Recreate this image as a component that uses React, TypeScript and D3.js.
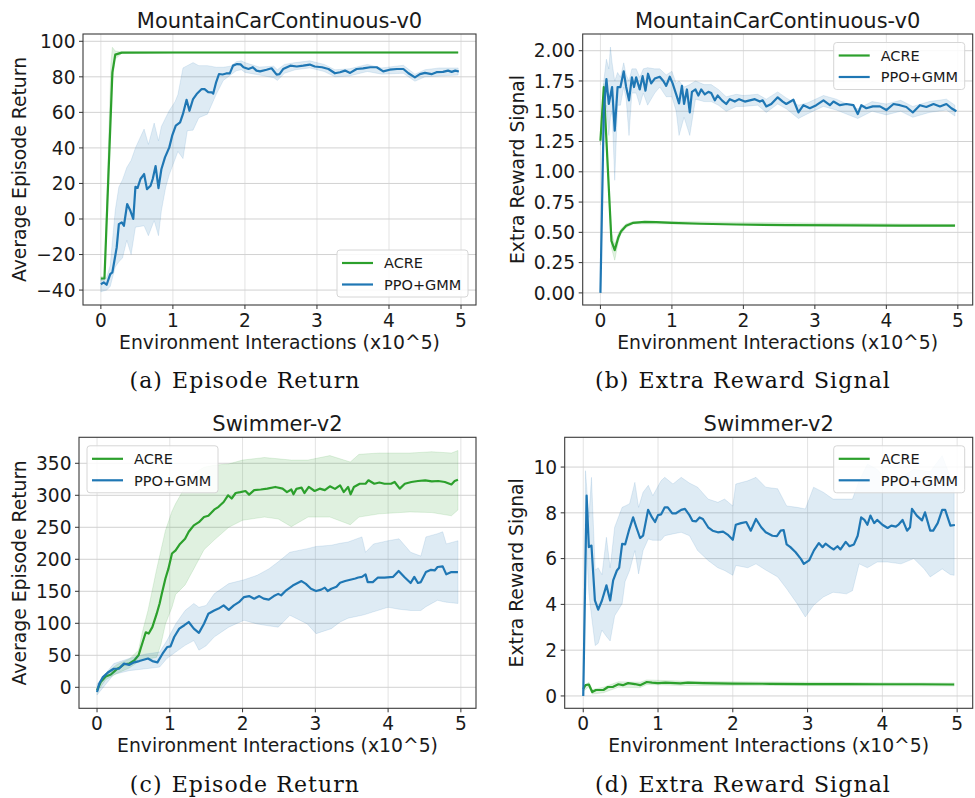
import React from "react";
import * as d3 from "d3";

type P = [number, number];
type B = [number, number, number];

// ---------- text ----------
const seriesNames = ["ACRE", "PPO+GMM"];
const titles = ["MountainCarContinuous-v0", "MountainCarContinuous-v0", "Swimmer-v2", "Swimmer-v2"];
const yLabels = ["Average Episode Return", "Extra Reward Signal", "Average Episode Return", "Extra Reward Signal"];
const captionTags = ["(a)", "(b)", "(c)", "(d)"];
const captionTexts = ["Episode Return", "Extra Reward Signal", "Episode Return", "Extra Reward Signal"];
const xLabel = "Environment Interactions (x10^5)";

// ---------- ticks ----------
const xTicks = [0, 1, 2, 3, 4, 5];
const yTicksA = [-40, -20, 0, 20, 40, 60, 80, 100];
const yTicksB = [0, 0.25, 0.5, 0.75, 1.0, 1.25, 1.5, 1.75, 2.0];
const yTicksC = [0, 50, 100, 150, 200, 250, 300, 350];
const yTicksD = [0, 2, 4, 6, 8, 10];

// ---------- (a) MountainCar episode return ----------
const acreA: P[] = [[0, -33.5], [0.05, -33.5], [0.16, 82.5], [0.2, 92.5], [0.29, 93.6], [1, 93.7], [4.96, 93.7]];
const acreBandA: B[] = [[0, -34.5, -32.5], [0.05, -34.5, -32.5], [0.14, 70, 88], [0.16, 78, 96.6], [0.2, 90, 94.5], [0.29, 93.2, 94.0], [4.96, 93.3, 94.1]];
const ppoA: P[] = [
  [0, -36.7], [0.04, -35.7], [0.08, -37], [0.13, -31], [0.16, -30], [0.22, -16], [0.25, -2.9], [0.29, -1.9], [0.32, -3.8],
  [0.365, 8.4], [0.41, 4.6], [0.45, 0], [0.48, 18.1], [0.51, 17.5], [0.55, 22.5], [0.6, 25.3], [0.64, 16.8], [0.69, 18.7],
  [0.72, 22.5], [0.76, 29.8], [0.8, 17.4], [0.84, 28], [0.89, 34.7], [0.95, 40.3], [0.99, 46.9], [1.04, 52.5], [1.1, 54.4],
  [1.14, 59.1], [1.19, 67.1], [1.23, 60.9], [1.28, 67.5], [1.33, 70.3], [1.4, 73.1], [1.44, 73.1], [1.49, 71.4], [1.54, 71.2],
  [1.56, 70.6], [1.6, 76.9], [1.64, 81.6], [1.69, 81.3], [1.74, 81.9], [1.79, 81.9], [1.835, 86.3], [1.89, 87.2], [1.94, 87],
  [1.98, 85.4], [2.05, 84.4], [2.11, 85.4], [2.16, 83.5], [2.21, 83.1], [2.3, 84], [2.37, 84.8], [2.44, 81.2], [2.48, 81.5],
  [2.53, 84.4], [2.63, 86.3], [2.72, 85.8], [2.81, 86.3], [2.9, 86.9], [2.97, 85.8], [3.07, 85.4], [3.16, 84.4], [3.25, 82],
  [3.32, 82.6], [3.39, 83.5], [3.46, 82.2], [3.55, 84.4], [3.64, 84.8], [3.74, 85.4], [3.83, 85.4], [3.92, 83.1], [4.01, 84],
  [4.11, 84.4], [4.2, 84.4], [4.27, 82], [4.36, 79.7], [4.43, 81.5], [4.5, 82.2], [4.59, 81.5], [4.66, 82.6], [4.75, 82.8],
  [4.82, 83.5], [4.87, 82.8], [4.92, 83.5], [4.97, 83],
];
const ppoBandA: B[] = [
  [0, -41, -34], [0.08, -40, -33], [0.13, -38, -26], [0.2, -27, 5], [0.25, -24, 18], [0.3, -22, 22], [0.36, -12, 29],
  [0.42, -20, 33], [0.48, -4.6, 40], [0.6, -3.8, 50.6], [0.66, -9.4, 42], [0.74, -0.9, 54], [0.8, -9.4, 44], [0.84, 4.6, 52],
  [0.9, 17.8, 57], [0.95, 25, 61], [1.03, 33.6, 66], [1.07, 38, 70], [1.14, 34, 85], [1.2, 49.7, 86.3], [1.28, 50, 88],
  [1.36, 57, 86.3], [1.48, 59, 86.3], [1.6, 70, 85.4], [1.7, 78, 85.4], [1.8, 81, 86], [1.88, 83.4, 88.5], [1.95, 84, 89],
  [2.0, 82.5, 88], [2.2, 81, 85.5], [2.4, 79.5, 86], [2.45, 78, 84], [2.55, 82, 87], [2.7, 84, 88], [2.9, 85, 89],
  [3.1, 83, 87], [3.25, 80, 84], [3.45, 80.5, 84.5], [3.7, 83, 87], [3.9, 81.5, 85], [4.2, 82, 86.5], [4.36, 77.5, 81.5],
  [4.5, 80, 84], [4.7, 80.5, 85], [4.96, 81, 85],
];

// ---------- (b) MountainCar extra reward ----------
const acreB: P[] = [[0, 1.256], [0.047, 1.7], [0.154, 0.43], [0.2, 0.353], [0.25, 0.458], [0.29, 0.51], [0.36, 0.554], [0.46, 0.579],
  [0.62, 0.587], [0.78, 0.584], [1.0, 0.579], [1.4, 0.571], [1.9, 0.565], [2.6, 0.56], [3.5, 0.558], [4.2, 0.556], [4.96, 0.555]];
const acreBandB: B[] = [[0, 1.22, 1.29], [0.047, 1.66, 1.73], [0.154, 0.37, 0.5], [0.2, 0.27, 0.4], [0.25, 0.42, 0.49],
  [0.29, 0.49, 0.53], [0.36, 0.54, 0.57], [0.46, 0.57, 0.59], [1.0, 0.57, 0.59], [4.96, 0.55, 0.565]];
const ppoB: P[] = [
  [0, 0], [0.047, 1.5], [0.084, 1.766], [0.117, 1.56], [0.163, 1.7], [0.2, 1.34], [0.24, 1.7], [0.28, 1.7], [0.326, 1.83],
  [0.36, 1.7], [0.4, 1.59], [0.44, 1.78], [0.47, 1.7], [0.5, 1.78], [0.55, 1.68], [0.59, 1.79], [0.63, 1.67], [0.666, 1.81],
  [0.71, 1.73], [0.76, 1.77], [0.83, 1.785], [0.88, 1.75], [0.92, 1.71], [0.97, 1.785], [1.01, 1.73], [1.06, 1.64], [1.1, 1.565],
  [1.14, 1.71], [1.17, 1.56], [1.21, 1.68], [1.25, 1.49], [1.28, 1.66], [1.33, 1.68], [1.37, 1.63], [1.41, 1.68], [1.46, 1.64],
  [1.51, 1.66], [1.55, 1.65], [1.6, 1.59], [1.64, 1.63], [1.7, 1.59], [1.76, 1.56], [1.81, 1.6], [1.88, 1.58], [1.94, 1.6],
  [2.02, 1.58], [2.09, 1.59], [2.16, 1.6], [2.23, 1.58], [2.27, 1.59], [2.32, 1.54], [2.39, 1.56], [2.48, 1.615], [2.55, 1.58],
  [2.6, 1.56], [2.7, 1.595], [2.77, 1.49], [2.84, 1.55], [2.93, 1.525], [3.02, 1.55], [3.12, 1.59], [3.21, 1.55], [3.26, 1.58],
  [3.35, 1.55], [3.44, 1.56], [3.54, 1.55], [3.6, 1.477], [3.65, 1.55], [3.72, 1.525], [3.81, 1.54], [3.91, 1.54], [4.0, 1.51],
  [4.1, 1.56], [4.19, 1.55], [4.28, 1.535], [4.37, 1.49], [4.47, 1.55], [4.56, 1.535], [4.66, 1.56], [4.75, 1.54], [4.84, 1.56],
  [4.91, 1.525], [4.98, 1.5],
];
const ppoBandB: B[] = [
  [0, 0, 0], [0.047, 1.3, 1.75], [0.084, 1.55, 1.93], [0.117, 1.3, 1.85], [0.14, 1.45, 2.03], [0.163, 1.5, 1.9], [0.2, 0.93, 1.75],
  [0.24, 1.55, 1.82], [0.28, 1.55, 1.78], [0.326, 1.7, 1.9], [0.36, 1.6, 1.8], [0.4, 1.3, 1.75], [0.44, 1.65, 1.85], [0.5, 1.65, 1.85],
  [0.55, 1.55, 1.78], [0.6, 1.65, 1.85], [0.66, 1.55, 1.86], [0.76, 1.65, 1.85], [0.83, 1.7, 1.85], [0.92, 1.62, 1.8], [1.0, 1.62, 1.83],
  [1.06, 1.5, 1.73], [1.1, 1.3, 1.75], [1.17, 1.45, 1.7], [1.25, 1.3, 1.72], [1.33, 1.6, 1.75], [1.45, 1.58, 1.72], [1.55, 1.58, 1.72],
  [1.65, 1.55, 1.68], [1.76, 1.5, 1.62], [1.9, 1.54, 1.64], [2.0, 1.54, 1.63], [2.2, 1.55, 1.64], [2.32, 1.49, 1.6], [2.48, 1.56, 1.66],
  [2.6, 1.52, 1.61], [2.77, 1.44, 1.55], [2.9, 1.48, 1.57], [3.12, 1.54, 1.63], [3.3, 1.51, 1.6], [3.6, 1.44, 1.52], [3.8, 1.5, 1.58],
  [4.0, 1.47, 1.56], [4.2, 1.5, 1.59], [4.37, 1.45, 1.54], [4.6, 1.49, 1.58], [4.84, 1.51, 1.6], [4.96, 1.46, 1.55],
];

// ---------- (c) Swimmer episode return ----------
const acreC: P[] = [
  [0, -4.7], [0.05, 8.3], [0.12, 17], [0.19, 20], [0.23, 24], [0.28, 29], [0.32, 31.6], [0.37, 36], [0.44, 37], [0.51, 42],
  [0.57, 50], [0.62, 68], [0.67, 86], [0.71, 84], [0.76, 94], [0.82, 115], [0.86, 131], [0.89, 146], [0.94, 170], [0.98, 185],
  [1.03, 209], [1.08, 214], [1.14, 224], [1.21, 232], [1.26, 243], [1.33, 253], [1.4, 258], [1.47, 266], [1.53, 268], [1.61, 277.5],
  [1.67, 282], [1.74, 289.5], [1.8, 300], [1.85, 295], [1.905, 303.6], [1.97, 305], [2.04, 306.7], [2.09, 301], [2.16, 308],
  [2.25, 309], [2.34, 310.4], [2.45, 313], [2.55, 310.4], [2.61, 305], [2.67, 309], [2.7, 301.6], [2.74, 310], [2.81, 312],
  [2.85, 303.6], [2.91, 313], [2.99, 306.7], [3.06, 310.4], [3.13, 308], [3.2, 314], [3.27, 310], [3.34, 315.6], [3.39, 305],
  [3.45, 313], [3.485, 301.5], [3.53, 313], [3.61, 318], [3.69, 318], [3.73, 323.4], [3.81, 318], [3.88, 320], [3.95, 318],
  [4.04, 318], [4.09, 320.8], [4.16, 310.4], [4.23, 318], [4.32, 320.8], [4.41, 322.3], [4.51, 323.4], [4.6, 321.8], [4.69, 322.3],
  [4.78, 320.8], [4.87, 317], [4.915, 322.3], [4.96, 324.4],
];
const acreBandC: B[] = [
  [0, -8, -1], [0.12, 12, 22], [0.28, 22, 36], [0.44, 30, 44], [0.57, 40, 58], [0.62, 42, 85], [0.7, 44, 120], [0.82, 47, 185],
  [0.88, 68, 215], [0.94, 99, 245], [1.03, 125, 275], [1.08, 145, 287], [1.21, 160, 313], [1.33, 185, 334], [1.47, 215, 344],
  [1.61, 230, 347], [1.81, 250, 349], [2.0, 261, 355], [2.3, 266, 359], [2.49, 263, 357], [2.67, 251, 355], [2.9, 266, 355],
  [3.2, 266, 362], [3.48, 254, 352], [3.6, 266, 364], [3.88, 271, 366], [4.3, 274, 366], [4.6, 273, 368], [4.87, 268, 366],
  [4.96, 277, 370],
];
const ppoC: P[] = [
  [0, -7.3], [0.03, 5.7], [0.08, 16], [0.16, 24], [0.23, 29], [0.3, 29], [0.37, 37], [0.44, 35], [0.51, 39], [0.58, 41],
  [0.64, 43], [0.7, 45], [0.76, 41], [0.83, 39], [0.9, 52.5], [0.966, 63], [1.01, 64], [1.06, 78.6], [1.13, 91.6], [1.2, 97],
  [1.26, 102], [1.33, 91.6], [1.4, 85], [1.47, 99.4], [1.53, 115], [1.61, 120], [1.67, 123], [1.74, 128], [1.81, 121], [1.88, 128],
  [1.95, 133], [2.02, 141], [2.09, 142.5], [2.16, 138.5], [2.23, 142.5], [2.29, 138.5], [2.36, 137], [2.43, 142.5], [2.49, 146],
  [2.53, 143.6], [2.6, 151.5], [2.69, 159], [2.81, 166], [2.87, 161.6], [2.94, 154], [3.01, 150.4], [3.08, 152.6], [3.13, 155.7],
  [3.17, 150.4], [3.22, 154], [3.29, 157], [3.34, 163.4], [3.41, 166], [3.48, 168], [3.55, 170], [3.59, 171.5], [3.64, 172.6],
  [3.69, 176.5], [3.72, 164.4], [3.79, 164.4], [3.86, 171.5], [3.95, 171.5], [4.07, 172.6], [4.145, 181.7], [4.23, 171.5],
  [4.31, 163], [4.36, 172.6], [4.41, 163], [4.45, 164.4], [4.52, 180], [4.59, 183.6], [4.64, 182.6], [4.68, 188], [4.75, 189],
  [4.8, 176.5], [4.87, 180], [4.96, 180],
];
const ppoBandC: B[] = [
  [0, -12, 5], [0.23, 20, 37], [0.44, 26, 45], [0.67, 29, 52], [0.86, 31.6, 55], [0.96, 45, 73], [1.08, 55, 99], [1.21, 65.6, 120],
  [1.33, 73, 131], [1.4, 58, 125], [1.5, 65, 128], [1.61, 78.6, 146], [1.81, 94, 162], [2.02, 104.7, 168], [2.2, 99, 175],
  [2.36, 96, 185], [2.49, 94, 196], [2.65, 112.5, 211], [2.89, 99, 216.6], [3.01, 83.8, 220], [3.22, 91.6, 222], [3.34, 102, 225],
  [3.45, 108, 227], [3.64, 112.5, 235], [3.69, 114, 211], [3.8, 118, 224], [4.0, 125, 229], [4.15, 122, 232], [4.31, 120, 211],
  [4.45, 120, 205], [4.52, 126, 235], [4.68, 136, 240], [4.75, 134, 243], [4.8, 133, 224], [4.96, 131, 229],
];

// ---------- (d) Swimmer extra reward ----------
const acreD: P[] = [
  [0, 0.3], [0.03, 0.47], [0.075, 0.5], [0.12, 0.17], [0.17, 0.26], [0.27, 0.26], [0.33, 0.39], [0.4, 0.4], [0.47, 0.51],
  [0.53, 0.47], [0.6, 0.56], [0.69, 0.52], [0.76, 0.47], [0.85, 0.61], [0.92, 0.58], [1.0, 0.56], [1.1, 0.58], [1.3, 0.55],
  [1.4, 0.58], [1.6, 0.56], [2.0, 0.54], [2.5, 0.53], [3.0, 0.52], [3.5, 0.52], [4.0, 0.51], [4.5, 0.51], [4.96, 0.5],
];
const acreBandD: B[] = [
  [0, 0.2, 0.4], [0.075, 0.4, 0.6], [0.12, 0.08, 0.28], [0.27, 0.14, 0.38], [0.47, 0.38, 0.62], [0.76, 0.36, 0.6], [0.85, 0.5, 0.7],
  [1.3, 0.46, 0.65], [2.0, 0.46, 0.62], [3.0, 0.45, 0.6], [4.0, 0.44, 0.58], [4.96, 0.43, 0.57],
];
const ppoD: P[] = [
  [0, 0], [0.045, 8.75], [0.075, 6.5], [0.11, 6.57], [0.156, 4.17], [0.2, 3.77], [0.25, 4.17], [0.31, 4.83], [0.36, 4.17],
  [0.4, 5.05], [0.45, 5.48], [0.48, 5.6], [0.52, 6.64], [0.56, 6.62], [0.61, 7.22], [0.667, 7.8], [0.71, 7.37], [0.76, 6.9],
  [0.8, 7.0], [0.867, 8.13], [0.92, 7.8], [0.96, 7.6], [1.0, 7.9], [1.04, 7.93], [1.09, 8.24], [1.13, 8.24], [1.19, 7.98],
  [1.24, 7.98], [1.31, 8.13], [1.36, 8.17], [1.42, 7.9], [1.46, 7.65], [1.51, 7.63], [1.556, 7.8], [1.6, 7.73], [1.67, 7.37],
  [1.73, 7.22], [1.8, 7.15], [1.87, 7.18], [1.93, 7.05], [2.0, 6.82], [2.04, 7.48], [2.11, 7.55], [2.18, 7.6], [2.24, 7.22],
  [2.31, 7.73], [2.38, 7.37], [2.44, 7.15], [2.53, 7.0], [2.59, 6.98], [2.64, 7.22], [2.68, 7.25], [2.72, 6.62], [2.77, 6.5],
  [2.84, 6.28], [2.91, 5.99], [2.95, 5.77], [3.02, 5.92], [3.085, 6.36], [3.15, 6.68], [3.2, 6.5], [3.24, 6.65], [3.31, 6.48],
  [3.35, 6.4], [3.4, 6.54], [3.44, 6.4], [3.51, 6.73], [3.56, 6.54], [3.62, 6.62], [3.67, 7.0], [3.716, 7.8], [3.76, 7.69],
  [3.8, 7.48], [3.84, 7.88], [3.89, 7.55], [3.93, 7.69], [4.0, 7.48], [4.07, 7.34], [4.12, 7.44], [4.18, 7.4], [4.22, 7.5],
  [4.27, 7.69], [4.33, 7.22], [4.37, 7.37], [4.396, 8.17], [4.46, 7.88], [4.53, 7.67], [4.57, 8.02], [4.64, 7.22], [4.68, 7.22],
  [4.74, 7.55], [4.8, 8.13], [4.84, 8.13], [4.91, 7.44], [4.97, 7.47],
];
const ppoBandD: B[] = [
  [0, 0, 0], [0.03, 7.5, 9.84], [0.075, 4.5, 7.8], [0.11, 3.5, 9.55], [0.16, 2.2, 5.5], [0.2, 2.3, 5.6], [0.25, 2.87, 5.3],
  [0.31, 2.6, 6.93], [0.36, 2.4, 5.6], [0.42, 3.5, 7.37], [0.52, 4.03, 8.24], [0.56, 5.0, 8.3], [0.62, 5.48, 8.4], [0.69, 6.35, 9.33],
  [0.74, 5.33, 8.24], [0.8, 6.35, 8.9], [0.87, 6.86, 9.2], [0.93, 6.8, 8.75], [1.04, 6.8, 9.4], [1.09, 7.0, 9.55], [1.2, 7.08, 9.26],
  [1.31, 7.15, 9.55], [1.42, 7.0, 9.3], [1.53, 6.35, 9.12], [1.67, 5.92, 8.6], [1.8, 5.6, 8.46], [1.89, 5.48, 8.6], [2.0, 5.27, 8.3],
  [2.04, 5.7, 9.26], [2.2, 5.6, 9.4], [2.31, 5.77, 9.55], [2.44, 5.5, 9.12], [2.6, 5.2, 9.05], [2.72, 4.68, 8.3], [2.86, 4.03, 8.24],
  [2.97, 3.45, 8.17], [3.08, 3.96, 9.12], [3.21, 4.32, 8.9], [3.34, 4.53, 8.6], [3.52, 4.46, 8.6], [3.6, 4.6, 8.6], [3.69, 5.77, 9.4],
  [3.8, 5.6, 10.13], [3.93, 5.85, 9.9], [4.07, 5.85, 9.4], [4.25, 5.77, 9.55], [4.42, 6.0, 9.9], [4.56, 5.55, 9.84], [4.64, 5.2, 9.8],
  [4.8, 5.55, 10.5], [4.91, 5.3, 9.55], [4.96, 5.27, 9.55],
];

// ---------- styling / layout ----------
const COLORS = ["#2ca02c", "#1f77b4"];
const FONT = "DejaVu Sans, Verdana, sans-serif";
const SERIF = "DejaVu Serif, serif";
const X_DOMAIN: [number, number] = [-0.248, 5.208];

type Cfg = {
  left: number; right: number; top: number; bottom: number;
  yDomain: [number, number]; yTicks: number[]; yFmt: (v: number) => string;
  acre: P[]; acreBand: B[]; ppo: P[]; ppoBand: B[];
  legend: "lr" | "ur" | "ul"; ylabelX: number; capX: number; capY: number; idx: number;
};

const intFmt = (v: number) => d3.format("d")(v).replace("-", "\u2212");
const twoFmt = (v: number) => d3.format(".2f")(v);

const panels: Cfg[] = [
  { left: 83, right: 476, top: 34, bottom: 305, yDomain: [-48.4, 104.1], yTicks: yTicksA, yFmt: intFmt,
    acre: acreA, acreBand: acreBandA, ppo: ppoA, ppoBand: ppoBandA, legend: "lr", ylabelX: 26, capX: 245, capY: 388, idx: 0 },
  { left: 582.7, right: 972.7, top: 34, bottom: 305, yDomain: [-0.1, 2.138], yTicks: yTicksB, yFmt: twoFmt,
    acre: acreB, acreBand: acreBandB, ppo: ppoB, ppoBand: ppoBandB, legend: "ur", ylabelX: 524, capX: 743, capY: 388, idx: 1 },
  { left: 79, right: 476, top: 437.3, bottom: 708.3, yDomain: [-32.8, 390.6], yTicks: yTicksC, yFmt: intFmt,
    acre: acreC, acreBand: acreBandC, ppo: ppoC, ppoBand: ppoBandC, legend: "ul", ylabelX: 26, capX: 245, capY: 792, idx: 2 },
  { left: 564.7, right: 972.7, top: 437.3, bottom: 708.3, yDomain: [-0.54, 11.3], yTicks: yTicksD, yFmt: intFmt,
    acre: acreD, acreBand: acreBandD, ppo: ppoD, ppoBand: ppoBandD, legend: "ur", ylabelX: 523, capX: 743, capY: 792, idx: 3 },
];

function Panel({ c }: { c: Cfg }) {
  const x = d3.scaleLinear().domain(X_DOMAIN).range([c.left, c.right]);
  const y = d3.scaleLinear().domain(c.yDomain).range([c.bottom, c.top]);
  const line = d3.line<P>().x((d) => x(d[0])).y((d) => y(d[1]));
  const area = d3.area<B>().x((d) => x(d[0])).y0((d) => y(d[1])).y1((d) => y(d[2]));
  const clipId = `clip${c.idx}`;
  const w = c.right - c.left;
  const h = c.bottom - c.top;
  const lgW = 131, lgH = 47;
  const lgX = c.legend === "ul" ? c.left + 8 : c.right - 8 - lgW;
  const lgY = c.legend === "lr" ? c.bottom - 8 - lgH : c.top + 8.5;
  const cx = (c.left + c.right) / 2;
  const cy = (c.top + c.bottom) / 2;
  return (
    <g>
      <defs>
        <clipPath id={clipId}>
          <rect x={c.left} y={c.top} width={w} height={h} />
        </clipPath>
      </defs>
      {/* grid */}
      {xTicks.map((t) => (
        <line key={"gx" + t} x1={x(t)} x2={x(t)} y1={c.top} y2={c.bottom} stroke="#e3e3e3" strokeWidth={1} />
      ))}
      {c.yTicks.map((t) => (
        <line key={"gy" + t} x1={c.left} x2={c.right} y1={y(t)} y2={y(t)} stroke="#d2d2d2" strokeWidth={1} />
      ))}
      <g clipPath={`url(#${clipId})`}>
        <path d={area(c.acreBand) || ""} fill={COLORS[0]} fillOpacity={0.15} stroke={COLORS[0]} strokeOpacity={0.12} strokeWidth={1} />
        <path d={line(c.acre) || ""} fill="none" stroke={COLORS[0]} strokeWidth={2.2} strokeLinejoin="round" />
        <path d={area(c.ppoBand) || ""} fill={COLORS[1]} fillOpacity={0.15} stroke={COLORS[1]} strokeOpacity={0.12} strokeWidth={1} />
        <path d={line(c.ppo) || ""} fill="none" stroke={COLORS[1]} strokeWidth={2.2} strokeLinejoin="round" />
      </g>
      {/* frame */}
      <rect x={c.left} y={c.top} width={w} height={h} fill="none" stroke="#3a3a3a" strokeWidth={1.1} />
      {/* x ticks */}
      {xTicks.map((t) => (
        <g key={"xt" + t}>
          <line x1={x(t)} x2={x(t)} y1={c.bottom} y2={c.bottom + 4} stroke="#333" strokeWidth={1} />
          <text x={x(t)} y={c.bottom + 22} textAnchor="middle" fontFamily={FONT} fontSize={18.6} fill="#1a1a1a">{t}</text>
        </g>
      ))}
      {c.yTicks.map((t) => (
        <g key={"yt" + t}>
          <line x1={c.left - 4} x2={c.left} y1={y(t)} y2={y(t)} stroke="#333" strokeWidth={1} />
          <text x={c.left - 7.5} y={y(t)} dy="0.36em" textAnchor="end" fontFamily={FONT} fontSize={18.6} fill="#1a1a1a">{c.yFmt(t)}</text>
        </g>
      ))}
      {/* labels */}
      <text x={cx} y={c.top - 6} textAnchor="middle" fontFamily={FONT} fontSize={21} fill="#1a1a1a">{titles[c.idx]}</text>
      <text x={cx} y={c.bottom + 44} textAnchor="middle" fontFamily={FONT} fontSize={18.8} fill="#1a1a1a">{xLabel}</text>
      <text transform={`translate(${c.ylabelX},${cy}) rotate(-90)`} textAnchor="middle" fontFamily={FONT} fontSize={18.8} fill="#1a1a1a">{yLabels[c.idx]}</text>
      {/* legend */}
      <rect x={lgX} y={lgY} width={lgW} height={lgH} rx={3} fill="#fff" fillOpacity={0.85} stroke="#d6d6d6" strokeWidth={1} />
      {seriesNames.map((s, i) => (
        <g key={s}>
          <line x1={lgX + 5} x2={lgX + 36} y1={lgY + 13 + i * 21.5} y2={lgY + 13 + i * 21.5} stroke={COLORS[i]} strokeWidth={2.2} />
          <text x={lgX + 47} y={lgY + 13 + i * 21.5} dy="0.36em" fontFamily={FONT} fontSize={14.5} fill="#1a1a1a">{s}</text>
        </g>
      ))}
      {/* caption */}
      <text x={c.capX} y={c.capY} textAnchor="middle" fontFamily={SERIF} fontSize={22} letterSpacing={1.1} fill="#111">
        {captionTags[c.idx]}
        <tspan dx={9}>{captionTexts[c.idx]}</tspan>
      </text>
    </g>
  );
}

export default function App() {
  return (
    <svg width={975} height={798} viewBox="0 0 975 798" style={{ position: "absolute", left: 0, top: 0, background: "#fff" }}>
      <rect x={0} y={0} width={975} height={798} fill="#fff" />
      {panels.map((c) => (
        <Panel key={c.idx} c={c} />
      ))}
    </svg>
  );
}
